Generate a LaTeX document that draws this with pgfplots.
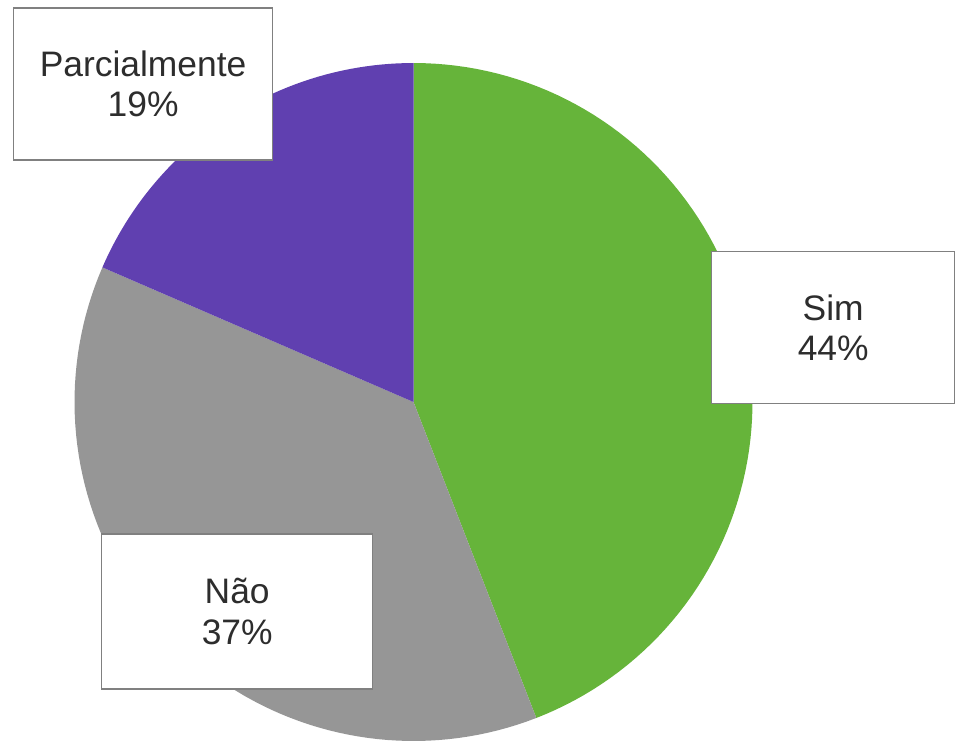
\documentclass[border=0pt]{standalone}
\usepackage{pgfplots}
\pgfplotsset{compat=1.18}
\usepackage{fontspec}
\setmainfont{Liberation Sans}
\definecolor{simgreen}{RGB}{102,180,58}
\definecolor{naogray}{RGB}{150,150,150}
\definecolor{parcpurple}{RGB}{96,64,176}
\definecolor{boxgray}{RGB}{128,128,128}
\definecolor{txtgray}{RGB}{45,45,45}
\begin{document}
\begin{tikzpicture}
\begin{axis}[
  width=477.5pt, height=370.5pt, scale only axis,
  xmin=0, xmax=955, ymin=0, ymax=741,
  hide axis, clip=false,
]
% Pie slices (percent of whole): Sim 44.1, Nao 37.4, Parcialmente 18.5
% start clockwise from 12 o'clock; angle = 90 - 3.6*t
\addplot[fill=simgreen, draw=none, domain=0:44.1, samples=90, variable=\t]
  ({413.5+339*cos(90-3.6*\t)}, {339+339*sin(90-3.6*\t)}) -- (axis cs:413.5,339) -- cycle;
\addplot[fill=naogray, draw=none, domain=44.1:81.5, samples=80, variable=\t]
  ({413.5+339*cos(90-3.6*\t)}, {339+339*sin(90-3.6*\t)}) -- (axis cs:413.5,339) -- cycle;
\addplot[fill=parcpurple, draw=none, domain=81.5:100, samples=50, variable=\t]
  ({413.5+339*cos(90-3.6*\t)}, {339+339*sin(90-3.6*\t)}) -- (axis cs:413.5,339) -- cycle;
% data labels
\node[draw=boxgray, line width=0.7pt, fill=white, inner sep=0pt, align=center,
      minimum width=129.6pt, minimum height=76pt, text=txtgray,
      font=\fontsize{17.7pt}{20.2pt}\selectfont]
  at (axis cs:143.1,657) {Parcialmente\\19\%};
\node[draw=boxgray, line width=0.7pt, fill=white, inner sep=0pt, align=center,
      minimum width=121.5pt, minimum height=75.8pt, text=txtgray,
      font=\fontsize{17.7pt}{20.2pt}\selectfont]
  at (axis cs:833.2,413.5) {Sim\\44\%};
\node[draw=boxgray, line width=0.7pt, fill=white, inner sep=0pt, align=center,
      minimum width=135.5pt, minimum height=77.5pt, text=txtgray,
      font=\fontsize{17.7pt}{20.8pt}\selectfont]
  at (axis cs:237.2,129.5) {Não\\37\%};
\end{axis}
\pgfresetboundingbox
\useasboundingbox (current axis.south west) rectangle (current axis.north east);
\end{tikzpicture}
\end{document}
